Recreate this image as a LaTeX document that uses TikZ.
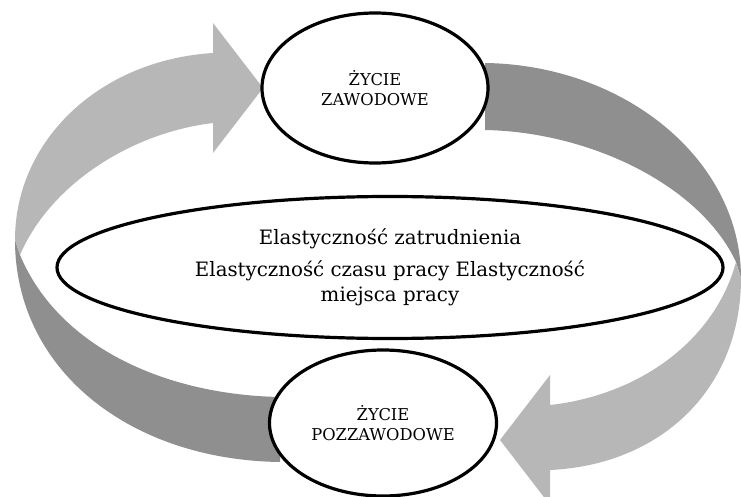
\documentclass[tikz,border=0pt]{standalone}
\usepackage{fontspec}
\setmainfont{DejaVu Serif}
\usetikzlibrary{shapes.geometric}
\definecolor{arrowlight}{RGB}{183, 183, 183}
\definecolor{arrowdark}{RGB}{143, 143, 143}

\begin{document}
\begin{tikzpicture}[x=1pt, y=-1pt,
    lifebox/.style={ellipse, draw=black, fill=white, line width=3.2pt, align=center, inner sep=0pt,
      font=\fontsize{16.3}{20}\selectfont},
    flexbox/.style={ellipse, draw=black, fill=white, line width=3.2pt, align=center, inner sep=0pt,
      font=\fontsize{19.8}{25.5}\selectfont}]
  \useasboundingbox (0,0) rectangle (741,497);
  % left dark band (down to the lower ellipse)
  \fill[arrowdark] (15,240) .. controls (15,370) and (130,460) .. (280,462)
    -- (280,397) .. controls (170,395) and (60,350) .. (20,255) -- cycle;
  % left light arrow (up to the upper ellipse)
  \fill[arrowlight] (15,240) .. controls (15,140) and (100,60) .. (213,53)
    -- (213,23) -- (263,88) -- (213,153) -- (213,123)
    .. controls (130,133) and (50,185) .. (20,255) -- cycle;
  % right dark band (from the upper ellipse)
  \fill[arrowdark] (485,63) .. controls (625,65) and (741,160) .. (741,278)
    -- (736,262) .. controls (700,185) and (590,132) .. (485,130) -- cycle;
  % right light arrow (down to the lower ellipse)
  \fill[arrowlight] (741,278) .. controls (741,390) and (660,465) .. (550,470)
    -- (550,505) -- (500,440) -- (550,375) -- (550,405)
    .. controls (640,395) and (715,340) .. (736,262) -- cycle;
  % upper ellipse
  \node[lifebox, minimum width=226pt, minimum height=150pt] (work) at (375,88) {ŻYCIE\\ZAWODOWE};
  % lower ellipse
  \node[lifebox, minimum width=227pt, minimum height=146pt] (retire) at (383,423) {ŻYCIE\\POZZAWODOWE};
  % middle ellipse
  \node[flexbox, minimum width=666pt, minimum height=142pt] (flex) at (390,267.5)
    {Elastyczność zatrudnienia\\[6pt]Elastyczność czasu pracy Elastyczność\\miejsca pracy};
\end{tikzpicture}
\end{document}
